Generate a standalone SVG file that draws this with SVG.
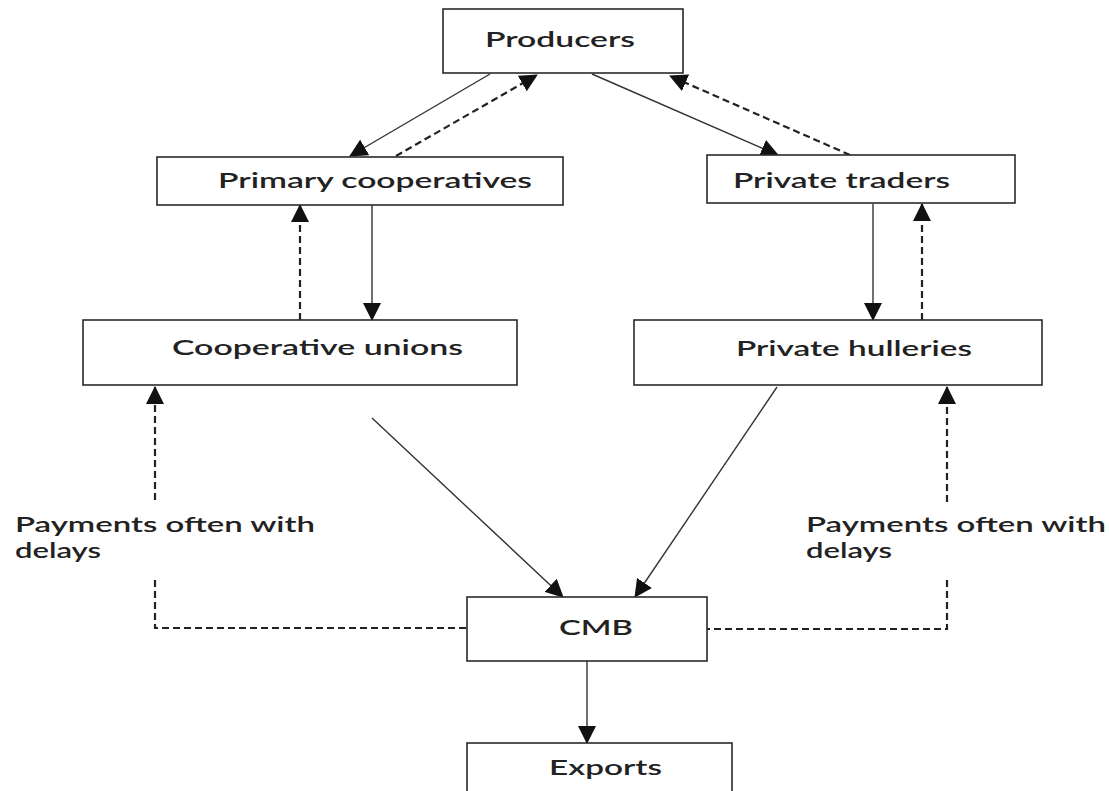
<svg xmlns="http://www.w3.org/2000/svg" width="1109" height="791" viewBox="0 0 1109 791">
<style>
.box{fill:#fff;stroke:#2a2a2a;stroke-width:1.6}
.t{font-family:Lato,"Liberation Sans",sans-serif;font-size:21px;font-weight:600;fill:#222}
.s{fill:none;stroke:#333;stroke-width:1.4}
.d{fill:none;stroke:#222;stroke-width:2.2;stroke-dasharray:7 4}
</style>
<defs>
<marker id="ah" markerUnits="userSpaceOnUse" markerWidth="18" markerHeight="18" viewBox="0 0 18 18" refX="17" refY="9" orient="auto">
<path d="M0,0 L18,9 L0,18 Z" fill="#111"/>
</marker>
</defs>
<rect width="1109" height="791" fill="#fff"/>
<g id="connectors">
<line class="s" x1="490" y1="74" x2="350" y2="156" marker-end="url(#ah)"/>
<line class="d" x1="396" y1="156" x2="537" y2="75" marker-end="url(#ah)"/>
<line class="s" x1="592" y1="74" x2="778" y2="155" marker-end="url(#ah)"/>
<line class="d" x1="850" y1="155" x2="670" y2="76" marker-end="url(#ah)"/>
<line class="s" x1="372" y1="205" x2="372" y2="320" marker-end="url(#ah)"/>
<line class="d" x1="300" y1="320" x2="300" y2="205" marker-end="url(#ah)"/>
<line class="s" x1="873" y1="204" x2="873" y2="320" marker-end="url(#ah)"/>
<line class="d" x1="922" y1="320" x2="922" y2="204" marker-end="url(#ah)"/>
<line class="s" x1="372" y1="418" x2="563" y2="597" marker-end="url(#ah)"/>
<line class="s" x1="777" y1="387" x2="635" y2="597" marker-end="url(#ah)"/>
<line class="d" x1="155" y1="500" x2="155" y2="387" marker-end="url(#ah)"/>
<line class="d" x1="947" y1="502" x2="947" y2="387" marker-end="url(#ah)"/>
<path class="d" d="M155,580 V628 H467"/>
<path class="d" d="M947,580 V629 H707"/>
<line class="s" x1="587" y1="661" x2="587" y2="743" marker-end="url(#ah)"/>
<text class="t" x="15" y="532" textLength="300" lengthAdjust="spacingAndGlyphs">Payments often with</text>
<text class="t" x="15" y="558" textLength="86" lengthAdjust="spacingAndGlyphs">delays</text>
<text class="t" x="806" y="532" textLength="300" lengthAdjust="spacingAndGlyphs">Payments often with</text>
<text class="t" x="806" y="558" textLength="86" lengthAdjust="spacingAndGlyphs">delays</text>
</g>
<g id="producers">
<rect class="box" x="443" y="9" width="240" height="64"/>
<text class="t" x="485" y="47" textLength="150" lengthAdjust="spacingAndGlyphs">Producers</text>
</g>
<g id="primary-cooperatives">
<rect class="box" x="157" y="157" width="406" height="48"/>
<text class="t" x="218" y="188" textLength="314" lengthAdjust="spacingAndGlyphs">Primary cooperatives</text>
</g>
<g id="private-traders">
<rect class="box" x="707" y="155" width="308" height="48"/>
<text class="t" x="733" y="188" textLength="217" lengthAdjust="spacingAndGlyphs">Private traders</text>
</g>
<g id="cooperative-unions">
<rect class="box" x="83" y="320" width="434" height="65"/>
<text class="t" x="172" y="355" textLength="291" lengthAdjust="spacingAndGlyphs">Cooperative unions</text>
</g>
<g id="private-hulleries">
<rect class="box" x="634" y="320" width="408" height="65"/>
<text class="t" x="736" y="356" textLength="236" lengthAdjust="spacingAndGlyphs">Private hulleries</text>
</g>
<g id="cmb">
<rect class="box" x="467" y="597" width="240" height="64"/>
<text class="t" x="559" y="635" textLength="74" lengthAdjust="spacingAndGlyphs">CMB</text>
</g>
<g id="exports">
<rect class="box" x="467" y="743" width="265" height="52"/>
<text class="t" x="549" y="775" textLength="113" lengthAdjust="spacingAndGlyphs">Exports</text>
</g>
</svg>
